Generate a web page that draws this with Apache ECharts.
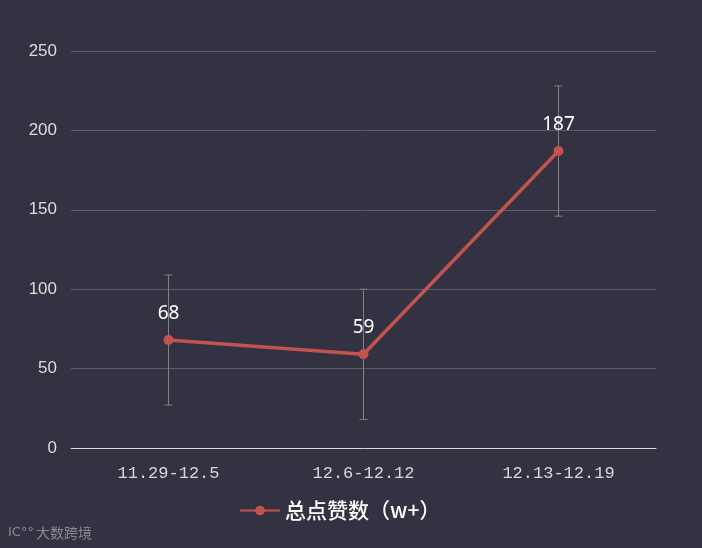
<!DOCTYPE html>
<html>
<head>
<meta charset="utf-8">
<script src="https://cdn.jsdelivr.net/npm/echarts@6/dist/echarts.min.js"></script>
<style>
  html, body { margin: 0; padding: 0; background: #323243; }
  #chart { width: 702px; height: 548px; }
</style>
</head>
<body>
<div id="chart"></div>
<script>
// Weekly likes (in units of 10k+) with error ranges
const categories = ['11.29-12.5', '12.6-12.12', '12.13-12.19'];
const likes = [68, 59, 187];
const errLow = [27, 18, 146];
const errHigh = [109, 100, 228];
const yTicks = [0, 50, 100, 150, 200, 250];
const seriesName = '总点赞数（w+）';

const chart = echarts.init(document.getElementById('chart'));

const errorData = categories.map((c, i) => [i, errLow[i], errHigh[i]]);

chart.setOption({
  backgroundColor: '#323243',
  animation: false,
  grid: { left: 71, right: 46, top: 51, bottom: 100 },
  legend: {
    data: [seriesName],
    bottom: 22,
    left: 234,
    itemWidth: 40,
    itemHeight: 12,
    textStyle: { color: '#ffffff', fontSize: 21, fontWeight: 500, fontFamily: 'Noto Sans CJK SC' }
  },
  xAxis: {
    type: 'category',
    data: categories,
    axisLine: { lineStyle: { color: '#d8d8d8', width: 1 } },
    axisTick: { show: false },
    axisLabel: {
      color: '#d8d8d8',
      fontSize: 17,
      fontFamily: 'Liberation Mono',
      margin: 17
    }
  },
  yAxis: {
    type: 'value',
    min: yTicks[0],
    max: yTicks[yTicks.length - 1],
    interval: 50,
    axisLine: { show: false },
    axisTick: { show: false },
    axisLabel: { color: '#dcdcdc', fontSize: 17, fontFamily: 'Liberation Sans', margin: 14 },
    splitLine: { lineStyle: { color: '#5c5c6c', width: 1 } }
  },
  series: [
    {
      type: 'custom',
      name: 'error',
      data: errorData,
      z: 1,
      renderItem: function (params, api) {
        const x = api.value(0);
        const lo = api.coord([x, api.value(1)]);
        const hi = api.coord([x, api.value(2)]);
        const cap = 4;
        const style = { stroke: '#808088', lineWidth: 1 };
        return {
          type: 'group',
          children: [
            { type: 'line', shape: { x1: lo[0], y1: lo[1], x2: hi[0], y2: hi[1] }, style: style },
            { type: 'line', shape: { x1: lo[0] - cap, y1: lo[1], x2: lo[0] + cap, y2: lo[1] }, style: style },
            { type: 'line', shape: { x1: hi[0] - cap, y1: hi[1], x2: hi[0] + cap, y2: hi[1] }, style: style }
          ]
        };
      },
      tooltip: { show: false }
    },
    {
      type: 'line',
      name: seriesName,
      data: likes,
      z: 3,
      symbol: 'circle',
      symbolSize: 10,
      itemStyle: { color: '#c3534f' },
      lineStyle: { color: '#c3534f', width: 3.5 },
      label: {
        show: true,
        position: 'top',
        distance: 12,
        color: '#ffffff',
        fontSize: 19,
        fontFamily: 'Noto Sans'
      }
    }
  ],
  graphic: [
    {
      type: 'text',
      left: 8,
      top: 526,
      style: { text: 'IC°°', fill: '#8a8a96', fontSize: 13, fontFamily: 'DejaVu Sans' }
    },
    {
      type: 'text',
      left: 36,
      top: 526,
      style: { text: '大数跨境', fill: '#8a8a96', fontSize: 14, fontFamily: 'Noto Sans CJK SC' }
    }
  ]
});
</script>
</body>
</html>
